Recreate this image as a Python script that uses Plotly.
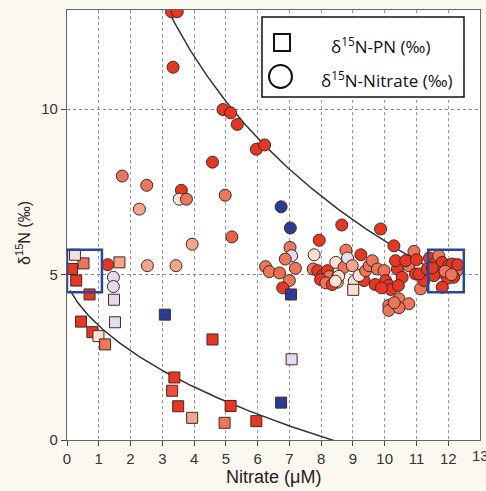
import numpy as np
import plotly.graph_objects as go

# ---------------- data ----------------
# colour value: 1 = red, 0.76 = salmon, 0.56 = light salmon, 0.24 = peach, 0 = lavender, -1 = blue
pn_x = [0.52, 0.16, 0.29, 0.25, 1.65, 0.71, 1.48, 3.08, 0.44, 1.51, 0.80, 0.99, 1.20, 4.58,
        7.07, 3.38, 3.31, 3.50, 3.94, 5.15, 4.96, 5.96, 6.74, 7.05, 9.01]
pn_y = [5.34, 5.17, 4.82, 5.60, 5.37, 4.40, 4.24, 3.79, 3.58, 3.56, 3.26, 3.14, 2.89, 3.04,
        2.44, 1.89, 1.49, 1.02, 0.67, 1.03, 0.52, 0.57, 1.13, 4.40, 4.54]
pn_c = [0.76, 1.0, 1.0, 0.2, 0.56, 1.0, 0.0, -1.0, 1.0, 0.0, 1.0, 0.24, 0.76, 1.0,
        0.0, 1.0, 0.9, 1.0, 0.56, 1.0, 0.76, 1.0, -1.0, -1.0, 0.24]

no3_x = [3.29, 3.47, 3.34, 4.58, 4.91, 5.15, 5.36, 5.96, 6.22, 1.74, 2.51, 3.60, 3.53, 3.76,
         2.28, 4.98, 3.94, 5.19, 2.53, 3.43, 1.28, 1.46, 1.46,
         6.74, 7.03, 7.02, 7.07, 6.87, 6.25, 6.37, 6.69, 7.19, 7.00, 6.79, 8.65, 7.94, 7.78,
         7.75, 7.89, 8.04, 8.20, 8.25, 8.46, 8.51, 8.51, 8.72, 8.78, 8.83, 7.98, 8.15, 8.35,
         8.55, 8.45,
         9.87, 10.29, 10.92, 10.71, 9.25, 8.98, 9.04, 9.35, 9.19, 9.40, 9.51, 9.61, 9.77, 9.98,
         10.03, 10.13, 10.19, 10.40, 10.55, 10.43, 10.76, 10.97, 11.13, 11.23, 10.34, 10.66,
         11.08, 11.34, 9.70, 9.90, 11.00,
         10.13, 10.45, 10.76, 10.13, 10.45, 10.30,
         11.41, 11.60, 11.70, 11.81, 12.02, 12.13, 12.28, 12.17, 11.70, 11.55, 11.98, 11.81,
         11.90, 12.30, 11.50, 12.10]
no3_y = [12.95, 12.95, 11.27, 8.40, 9.99, 9.89, 9.54, 8.79, 8.92, 7.98, 7.70, 7.55, 7.28, 7.28,
         6.98, 7.40, 5.92, 6.14, 5.27, 5.27, 5.30, 4.92, 4.64,
         7.05, 6.41, 5.82, 5.57, 5.47, 5.24, 5.09, 5.05, 5.19, 4.82, 4.60, 6.50, 6.04, 5.60,
         5.17, 5.12, 4.97, 5.12, 4.94, 5.37, 4.92, 4.77, 5.22, 5.74, 5.50, 4.85, 4.75, 4.70,
         4.95, 4.80,
         6.38, 5.87, 5.70, 5.42, 5.60, 5.27, 4.80, 4.82, 4.97, 5.12, 5.27, 5.42, 5.17, 5.12,
         4.82, 4.67, 4.55, 5.17, 4.92, 4.67, 5.27, 5.02, 4.57, 4.82, 5.42, 5.42,
         5.02, 5.17, 4.70, 4.60, 5.45,
         4.07, 4.27, 4.12, 3.92, 4.00, 4.15,
         5.50, 5.37, 5.57, 5.37, 5.27, 5.32, 5.12, 4.92, 5.07, 4.97, 4.89, 4.62,
         5.10, 5.30, 5.20, 5.00]
no3_c = [1.0, 1.0, 1.0, 1.0, 1.0, 1.0, 1.0, 1.0, 1.0, 0.76, 0.76, 1.0, 0.2, 0.76,
         0.56, 0.76, 0.56, 0.85, 0.56, 0.56, 1.0, 0.0, 0.0,
         -1.0, -1.0, 0.76, 0.0, 0.76, 0.76, 0.76, 0.8, 0.76, 0.76, 1.0, 1.0, 1.0, 0.24,
         0.76, 1.0, 1.0, 1.0, 0.76, 0.24, 0.24, 0.56, 0.76, 0.76, 0.05, 1.0, 0.76, 1.0,
         0.24, 0.24,
         1.0, 1.0, 0.76, 1.0, 1.0, 0.56, 0.24, 1.0, 0.24, 0.76, 0.76, 0.76, 0.76, 0.76,
         1.0, 1.0, 1.0, 1.0, 1.0, 1.0, 0.76, 1.0, 0.76, 1.0, 1.0, 1.0,
         1.0, 1.0, 1.0, 1.0, 1.0,
         0.76, 0.76, 0.76, 0.76, 0.76, 0.76,
         1.0, 1.0, 0.76, 1.0, 1.0, 1.0, 0.76, 1.0, 1.0, 1.0, 1.0, 1.0,
         0.76, 1.0, 1.0, 0.76]

# Rayleigh model parameters (substrate / accumulated product)
n0 = 12.0
delta0_sub, eps_sub = 4.9, 6.1
delta0_prod, eps_prod = 4.75, 5.73

x_ticks = list(range(0, 13))
x_last_tick = 13
y_ticks = [0, 5, 10]

# boxes highlighting end members (data coords)
box_left = [0.0, 1.1, 4.47, 5.75]
box_right = [11.37, 12.49, 4.47, 5.75]

# ---------------- figure ----------------
W, H = 486, 491
ML, MR, MT, MB = 67, 6, 10, 51
PW, PH = W - ML - MR, H - MT - MB


def pxx(p):
    return (p - ML) / PW


def pxy(p):
    return (H - MB - p) / PH


colorscale = [[0.0, "rgb(40,62,150)"], [0.5, "rgb(226,220,238)"], [0.62, "rgb(249,224,212)"],
              [0.78, "rgb(244,165,140)"], [0.88, "rgb(236,118,92)"], [1.0, "rgb(229,55,36)"]]

fig = go.Figure()

# model curves
xs_up = np.linspace(3.0, 11.6, 200)
ys_up = delta0_sub - eps_sub * np.log(xs_up / n0)
fig.add_trace(go.Scatter(x=xs_up, y=ys_up, mode="lines",
                         line=dict(color="#333", width=1.5), showlegend=False, hoverinfo="skip"))
xs_lo = np.linspace(0.1, 8.8, 200)
f = xs_lo / n0
ys_lo = delta0_prod + eps_prod * f * np.log(f) / (1 - f)
fig.add_trace(go.Scatter(x=xs_lo, y=ys_lo, mode="lines",
                         line=dict(color="#333", width=1.5), showlegend=False, hoverinfo="skip"))

fig.add_trace(go.Scatter(x=no3_x, y=no3_y, mode="markers", showlegend=False, cliponaxis=True,
                         marker=dict(symbol="circle", size=12, color=no3_c, cmin=-1, cmax=1,
                                     colorscale=colorscale,
                                     line=dict(color="rgb(70,40,35)", width=1))))
fig.add_trace(go.Scatter(x=pn_x, y=pn_y, mode="markers", showlegend=False,
                         marker=dict(symbol="square", size=11, color=pn_c, cmin=-1, cmax=1,
                                     colorscale=colorscale,
                                     line=dict(color="rgb(70,40,35)", width=1))))

shapes = []
for b in (box_left, box_right):
    shapes.append(dict(type="rect", xref="x", yref="y", x0=b[0], x1=b[1], y0=b[2], y1=b[3],
                       line=dict(color="#25489c", width=2.5), fillcolor="rgba(0,0,0,0)"))
# legend box
shapes.append(dict(type="rect", xref="paper", yref="paper", x0=pxx(262), x1=pxx(464),
                   y0=pxy(97), y1=pxy(17), line=dict(color="#111", width=1.5), fillcolor="white"))
shapes.append(dict(type="rect", xref="paper", yref="paper", x0=pxx(274), x1=pxx(290),
                   y0=pxy(51), y1=pxy(34), line=dict(color="#111", width=2)))
shapes.append(dict(type="circle", xref="paper", yref="paper", x0=pxx(269), x1=pxx(292),
                   y0=pxy(88), y1=pxy(65), line=dict(color="#111", width=2)))

legend_font = dict(family="Open Sans", size=17, color="#111")
annotations = [
    dict(xref="paper", yref="paper", x=pxx(380), y=pxy(45), text="δ<sup>15</sup>N-PN (‰)",
         showarrow=False, xanchor="center", yanchor="middle", font=legend_font),
    dict(xref="paper", yref="paper", x=pxx(387), y=pxy(80), text="δ<sup>15</sup>N-Nitrate (‰)",
         showarrow=False, xanchor="center", yanchor="middle", font=legend_font),
    # axis titles
    dict(xref="paper", yref="paper", x=pxx(273), y=pxy(477), text="Nitrate (μM)",
         showarrow=False, xanchor="center", yanchor="middle",
         font=dict(family="Liberation Sans", size=18, color="#222")),
    dict(xref="paper", yref="paper", x=pxx(23), y=pxy(233), text="δ<sup>15</sup>N (‰)",
         textangle=-90, showarrow=False, xanchor="center", yanchor="middle",
         font=dict(family="Liberation Sans", size=16, color="#222")),
    # last x tick label, cut by the page edge as in the original
    dict(xref="x", yref="paper", x=x_last_tick, y=pxy(455), text=str(x_last_tick),
         showarrow=False, xanchor="center", yanchor="middle",
         font=dict(family="Liberation Sans", size=15, color="#333")),
]

fig.update_layout(
    width=W, height=H,
    margin=dict(l=ML, r=MR, t=MT, b=MB, autoexpand=False),
    paper_bgcolor="#fbf8ef", plot_bgcolor="white",
    shapes=shapes, annotations=annotations,
    font=dict(family="Liberation Sans", color="#333"),
    xaxis=dict(range=[0, 13], tickvals=x_ticks, ticks="outside", ticklen=5, tickcolor="#444",
               showgrid=True, gridcolor="#9a9a9a", griddash="dot", gridwidth=1,
               showline=True, linecolor="#666", linewidth=1.2, mirror=True, zeroline=False,
               tickfont=dict(size=15, color="#333"), automargin=False),
    yaxis=dict(range=[0, 13], tickvals=y_ticks, ticks="outside", ticklen=5, tickcolor="#444",
               showgrid=True, gridcolor="#8a8a8a", griddash="dot", gridwidth=1,
               showline=True, linecolor="#666", linewidth=1.2, mirror=True, zeroline=False,
               tickfont=dict(size=15, color="#333"), automargin=False),
)

fig.write_html("out.html", config={"displayModeBar": False},
               post_script="document.body.style.margin='0';")
